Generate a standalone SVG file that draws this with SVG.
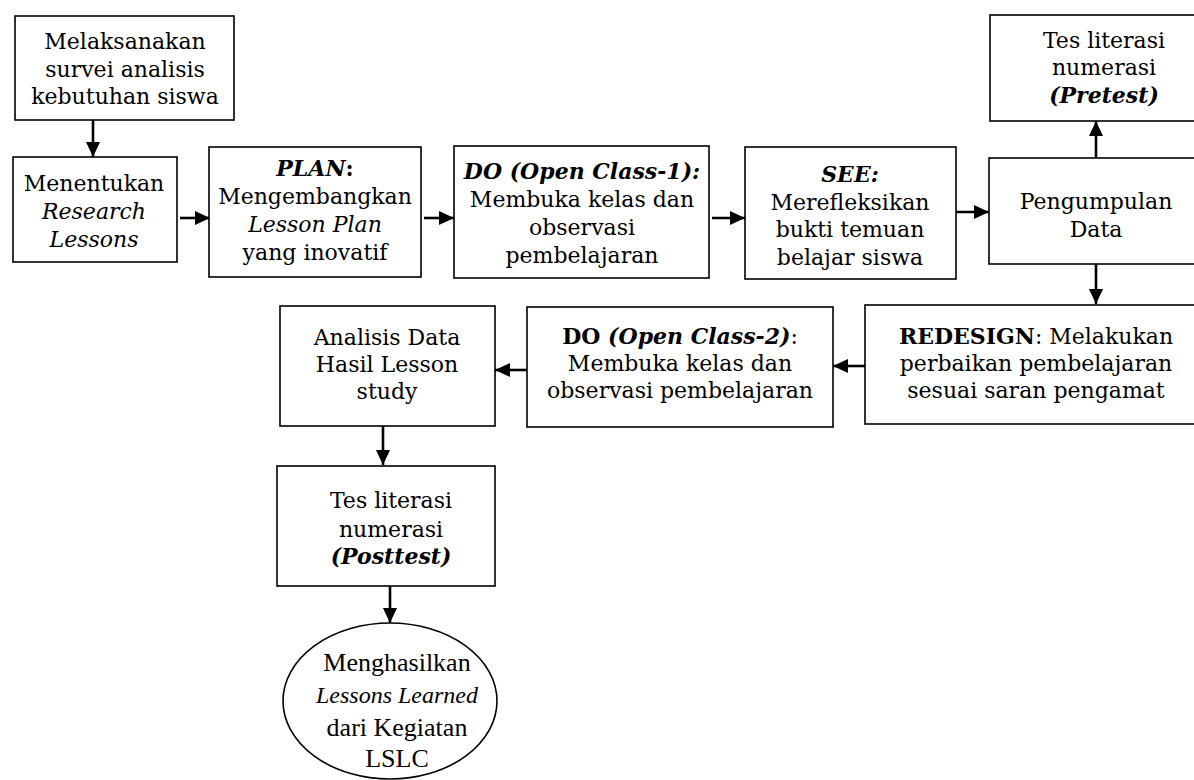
<svg xmlns="http://www.w3.org/2000/svg" width="1194" height="780" viewBox="0 0 1194 780">
<style>
.box{fill:#fff;stroke:#000;stroke-width:1.6}
.t{font-family:"DejaVu Serif","Liberation Serif",serif;font-size:22px;fill:#000;text-anchor:middle}
.e{font-family:"Liberation Serif","DejaVu Serif",serif;font-size:26px;fill:#000;text-anchor:middle}
.ei{font-size:24px;font-style:italic}
.i{font-style:italic}
.b{font-weight:bold}
.bi{font-weight:bold;font-style:italic}
.c{fill:none;stroke:#000;stroke-width:2.6}
</style>
<defs>
<marker id="ah" viewBox="0 0 15 14" refX="15" refY="7" markerWidth="15" markerHeight="14" markerUnits="userSpaceOnUse" orient="auto">
<path d="M0,0 L15,7 L0,14 Z" fill="#000"/>
</marker>
</defs>
<rect width="1194" height="780" fill="#fff"/>
<g id="connectors">
<line class="c" x1="93" y1="120" x2="93" y2="157" marker-end="url(#ah)"/>
<line class="c" x1="180" y1="218" x2="210" y2="218" marker-end="url(#ah)"/>
<line class="c" x1="424" y1="218" x2="454" y2="218" marker-end="url(#ah)"/>
<line class="c" x1="712" y1="218" x2="745" y2="218" marker-end="url(#ah)"/>
<line class="c" x1="956" y1="212" x2="989" y2="212" marker-end="url(#ah)"/>
<line class="c" x1="1096" y1="158" x2="1096" y2="121" marker-end="url(#ah)"/>
<line class="c" x1="1096" y1="264" x2="1096" y2="304" marker-end="url(#ah)"/>
<line class="c" x1="865" y1="366" x2="833" y2="366" marker-end="url(#ah)"/>
<line class="c" x1="527" y1="370" x2="495" y2="370" marker-end="url(#ah)"/>
<line class="c" x1="383" y1="426" x2="383" y2="465" marker-end="url(#ah)"/>
<line class="c" x1="390" y1="586" x2="390" y2="623" marker-end="url(#ah)"/>
</g>
<g id="n1">
<rect class="box" x="15" y="16" width="219" height="104"/>
<text class="t" x="125" y="49">Melaksanakan</text>
<text class="t" x="125" y="77">survei analisis</text>
<text class="t" x="125" y="104">kebutuhan siswa</text>
</g>
<g id="n2">
<rect class="box" x="13" y="157" width="164" height="105"/>
<text class="t" x="94" y="191">Menentukan</text>
<text class="t i" x="94" y="219">Research</text>
<text class="t i" x="94" y="247">Lessons</text>
</g>
<g id="n3">
<rect class="box" x="209" y="147" width="212" height="130"/>
<text class="t" x="315" y="176"><tspan class="bi">PLAN</tspan><tspan class="b">:</tspan></text>
<text class="t" x="315" y="204">Mengembangkan</text>
<text class="t i" x="315" y="232">Lesson Plan</text>
<text class="t" x="315" y="260">yang inovatif</text>
</g>
<g id="n4">
<rect class="box" x="454" y="146" width="255" height="132"/>
<text class="t bi" x="582" y="179">DO (Open Class-1):</text>
<text class="t" x="582" y="207">Membuka kelas dan</text>
<text class="t" x="582" y="235">observasi</text>
<text class="t" x="582" y="263">pembelajaran</text>
</g>
<g id="n5">
<rect class="box" x="745" y="147" width="211" height="132"/>
<text class="t bi" x="850" y="182">SEE:</text>
<text class="t" x="850" y="210">Merefleksikan</text>
<text class="t" x="850" y="237">bukti temuan</text>
<text class="t" x="850" y="265">belajar siswa</text>
</g>
<g id="n6">
<rect class="box" x="989" y="158" width="210" height="106"/>
<text class="t" x="1096" y="209">Pengumpulan</text>
<text class="t" x="1096" y="237">Data</text>
</g>
<g id="n7">
<rect class="box" x="990" y="15" width="209" height="106"/>
<text class="t" x="1104" y="48">Tes literasi</text>
<text class="t" x="1104" y="75">numerasi</text>
<text class="t bi" x="1104" y="103">(Pretest)</text>
</g>
<g id="n8">
<rect class="box" x="865" y="305" width="334" height="119"/>
<text class="t" x="1036" y="344"><tspan class="b">REDESIGN</tspan>: Melakukan</text>
<text class="t" x="1036" y="371">perbaikan pembelajaran</text>
<text class="t" x="1036" y="398">sesuai saran pengamat</text>
</g>
<g id="n9">
<rect class="box" x="527" y="307" width="306" height="120"/>
<text class="t" x="680" y="344"><tspan class="b">DO </tspan><tspan class="bi">(Open Class-2)</tspan>:</text>
<text class="t" x="680" y="371">Membuka kelas dan</text>
<text class="t" x="680" y="398">observasi pembelajaran</text>
</g>
<g id="n10">
<rect class="box" x="280" y="306" width="215" height="120"/>
<text class="t" x="387" y="345">Analisis Data</text>
<text class="t" x="387" y="372">Hasil Lesson</text>
<text class="t" x="387" y="399">study</text>
</g>
<g id="n11">
<rect class="box" x="277" y="466" width="218" height="120"/>
<text class="t" x="391" y="508">Tes literasi</text>
<text class="t" x="391" y="537">numerasi</text>
<text class="t bi" x="391" y="564">(Posttest)</text>
</g>
<g id="n12">
<ellipse class="box" cx="390" cy="701" rx="107" ry="78"/>
<text class="e" x="397" y="671">Menghasilkan</text>
<text class="e ei" x="397" y="703">Lessons Learned</text>
<text class="e" x="397" y="736">dari Kegiatan</text>
<text class="e" x="397" y="767">LSLC</text>
</g>
</svg>
